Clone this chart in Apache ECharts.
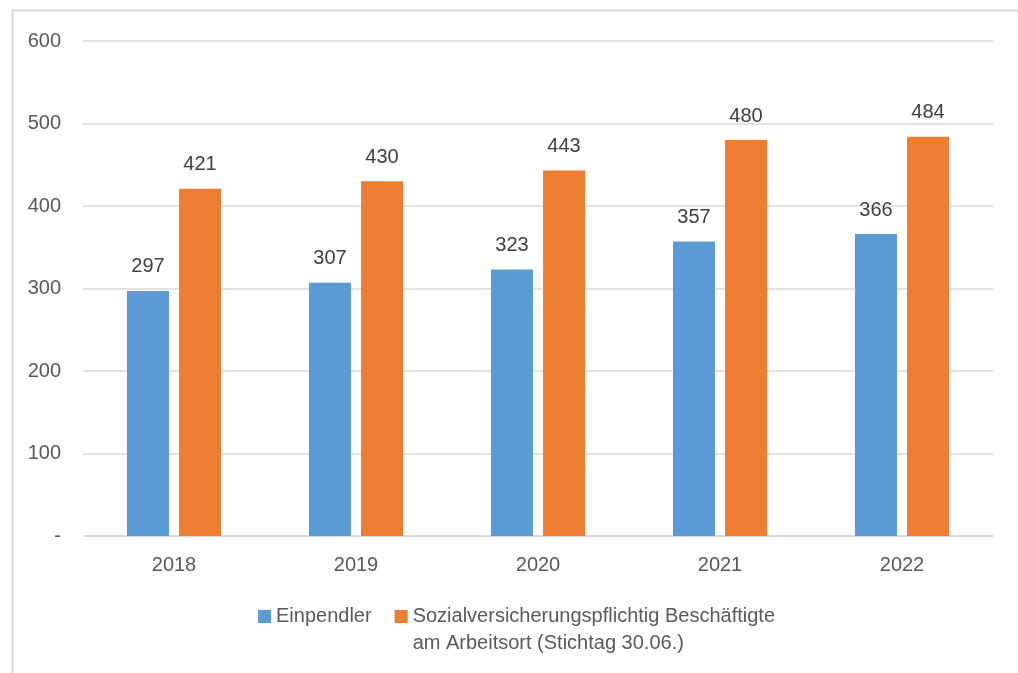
<!DOCTYPE html>
<html>
<head>
<meta charset="utf-8">
<script src="https://cdn.jsdelivr.net/npm/echarts@6/dist/echarts.min.js"></script>
<style>html,body{margin:0;padding:0;background:#fff}#c{width:1018px;height:673px}</style>
</head>
<body>
<div id="c"></div>
<script>
const categories = ['2018', '2019', '2020', '2021', '2022'];
const einpendler = [297, 307, 323, 357, 366];
const beschaeftigte = [421, 430, 443, 480, 484];
const seriesNames = ['Einpendler', 'Sozialversicherungspflichtig Beschäftigte\nam Arbeitsort (Stichtag 30.06.)'];
const yTicks = { min: 0, max: 600, interval: 100 };

const FONT = '"Liberation Sans", Arial, sans-serif';
const chart = echarts.init(document.getElementById('c'));
chart.setOption({
  animation: false,
  textStyle: { fontFamily: FONT },
  graphic: [{
    type: 'rect', shape: { x: 12.5, y: 10.5, width: 1100, height: 700 },
    style: { fill: 'none', stroke: '#d9d9d9', lineWidth: 2 }, silent: true, z: -1
  }],
  grid: { left: 83, right: 25, top: 41, bottom: 137, containLabel: false },
  legend: {
    top: 571, left: 253, itemWidth: 13, itemHeight: 13, itemGap: 23,
    icon: 'rect',
    textStyle: { fontFamily: FONT, fontSize: 20, color: '#595959', lineHeight: 27 },
    formatter: name => name.indexOf('\n') >= 0 ? '\n' + name : name,
    data: seriesNames
  },
  xAxis: {
    type: 'category', data: categories,
    axisLine: { lineStyle: { color: '#d9d9d9', width: 1.5 } },
    axisTick: { show: false },
    axisLabel: { fontFamily: FONT, fontSize: 20, color: '#595959', margin: 19 }
  },
  yAxis: {
    type: 'value', min: yTicks.min, max: yTicks.max, interval: yTicks.interval,
    axisLine: { show: false }, axisTick: { show: false },
    splitLine: { lineStyle: { color: '#d9d9d9', width: 1.5 } },
    axisLabel: { fontFamily: FONT, fontSize: 20, color: '#595959', margin: 22,
      formatter: v => v === 0 ? '-' : String(v) }
  },
  series: [
    { name: seriesNames[0], type: 'bar', data: einpendler, barWidth: 42, barGap: '24%',
      itemStyle: { color: '#5B9BD5' },
      label: { show: true, position: 'top', distance: 14, fontFamily: FONT, fontSize: 20, color: '#404040' } },
    { name: seriesNames[1], type: 'bar', data: beschaeftigte, barWidth: 42,
      itemStyle: { color: '#ED7D31' },
      label: { show: true, position: 'top', distance: 14, fontFamily: FONT, fontSize: 20, color: '#404040' } }
  ]
});
</script>
</body>
</html>
